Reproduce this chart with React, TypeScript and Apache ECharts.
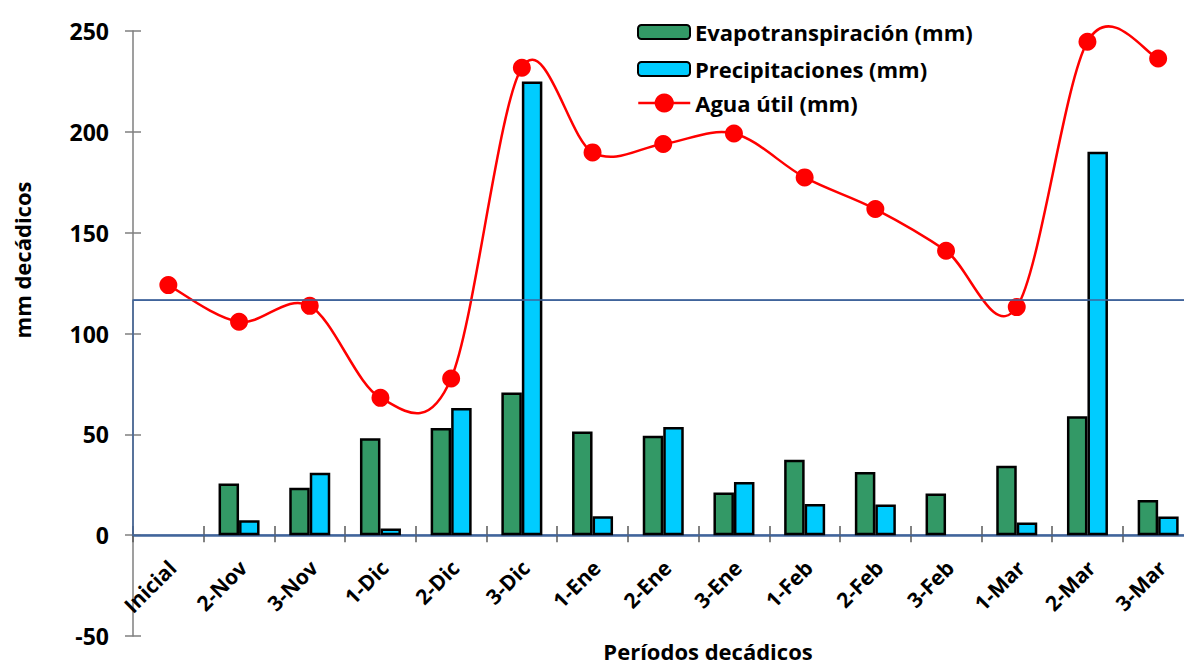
import React, { useEffect, useRef } from "react";
import * as echarts from "echarts";

// Ten-day periods of the season
const categories = [
  "Inicial", "2-Nov", "3-Nov", "1-Dic", "2-Dic", "3-Dic", "1-Ene", "2-Ene",
  "3-Ene", "1-Feb", "2-Feb", "3-Feb", "1-Mar", "2-Mar", "3-Mar",
];

// mm per ten-day period
const evapotranspiracion = ["-", 25.6, 23.5, 48.0, 53.2, 70.8, 51.4, 49.3, 21.2, 37.4, 31.3, 20.7, 34.4, 59.0, 17.5];
const precipitaciones = ["-", 7.4, 30.9, 3.3, 63.1, 224.9, 9.4, 53.6, 26.4, 15.5, 15.2, "-", 6.3, 190.1, 9.3];
const aguaUtil = [124.0, 105.8, 113.7, 68.1, 77.7, 231.8, 189.8, 194.0, 199.2, 177.4, 161.7, 141.0, 113.1, 244.7, 236.4];

// Reference level of available water
const umbral = 116.5;

const FONT = "'Open Sans', 'Liberation Sans', sans-serif";
const BLUE_LINE = "#41659b";
const RED = "#ff0000";

// Plot box (px): y from -50 to 250, x-axis sits at value 0
const PLOT_LEFT = 133;
const PLOT_RIGHT = -9.5;
const PLOT_TOP = 31;
const PLOT_BOTTOM = 29;
const ZERO_BOTTOM = 130; // distance from container bottom to the zero line

export default function App() {
  const ref = useRef<HTMLDivElement>(null);

  useEffect(() => {
    if (!ref.current) return;
    const chart = echarts.init(ref.current, undefined, { renderer: "svg" });

    const axisFont = { fontFamily: FONT, fontWeight: "bold" as const, color: "#000" };

    // Smoothed curve through the available-water points, one cubic segment per gap
    const renderSmooth = (params: any, api: any) => {
      const i = params.dataIndex;
      const n = aguaUtil.length;
      if (i >= n - 1) return null;
      const P = (j: number) => {
        const k = Math.max(0, Math.min(n - 1, j));
        return api.coord([k, aguaUtil[k]]);
      };
      const p0 = P(i - 1);
      const p1 = P(i);
      const p2 = P(i + 1);
      const p3 = P(i + 2);
      return {
        type: "bezierCurve",
        shape: {
          x1: p1[0],
          y1: p1[1],
          x2: p2[0],
          y2: p2[1],
          cpx1: p1[0] + (p2[0] - p0[0]) / 6,
          cpy1: p1[1] + (p2[1] - p0[1]) / 6,
          cpx2: p2[0] - (p3[0] - p1[0]) / 6,
          cpy2: p2[1] - (p3[1] - p1[1]) / 6,
        },
        style: { stroke: RED, lineWidth: 2.5, fill: "none" },
        silent: true,
      };
    };

    const legendBase = {
      orient: "vertical",
      left: 637,
      padding: 0,
      itemWidth: 52,
      textStyle: { ...axisFont, fontSize: 22, lineHeight: 20 },
    };

    chart.setOption({
      animation: false,
      backgroundColor: "#fff",
      grid: [
        {
          left: PLOT_LEFT,
          right: PLOT_RIGHT,
          top: PLOT_TOP,
          bottom: PLOT_BOTTOM,
          containLabel: false,
          outerBoundsMode: "none",
        },
        {
          // carries the category labels just under the zero line
          left: PLOT_LEFT + 4,
          right: PLOT_RIGHT - 4,
          top: PLOT_TOP,
          bottom: ZERO_BOTTOM,
          containLabel: false,
          outerBoundsMode: "none",
        },
        {
          // carries the upward half of the category ticks
          left: PLOT_LEFT,
          right: PLOT_RIGHT,
          top: PLOT_TOP,
          bottom: ZERO_BOTTOM,
          containLabel: false,
          outerBoundsMode: "none",
        },
      ],
      legend: [
        {
          ...legendBase,
          top: 21,
          itemHeight: 14,
          itemGap: 15,
          data: [{ name: "Evapotranspiración (mm)" }, { name: "Precipitaciones (mm)" }],
        },
        {
          ...legendBase,
          top: 92,
          itemHeight: 24,
          data: [{ name: "Agua útil (mm)", lineStyle: { color: RED, width: 2.5, opacity: 1 } }],
        },
      ],
      xAxis: [
        {
          gridIndex: 0,
          type: "category",
          data: categories,
          boundaryGap: true,
          axisLine: { onZero: true, lineStyle: { color: BLUE_LINE, width: 2.5 } },
          axisTick: { show: true, inside: false, length: 7, lineStyle: { color: "#595959", width: 1.5 } },
          axisLabel: { show: false },
          splitLine: { show: false },
        },
        {
          gridIndex: 1,
          type: "category",
          data: categories,
          boundaryGap: true,
          axisLine: { show: false },
          axisTick: { show: false },
          axisLabel: { ...axisFont, fontSize: 21, rotate: 45, margin: 29, interval: 0 },
          splitLine: { show: false },
        },
        {
          gridIndex: 2,
          type: "category",
          data: categories,
          boundaryGap: true,
          axisLine: { show: false },
          axisTick: { show: true, inside: true, length: 9, lineStyle: { color: "#595959", width: 1.5 } },
          axisLabel: { show: false },
          splitLine: { show: false },
        },
      ],
      yAxis: [
        {
          gridIndex: 0,
          type: "value",
          min: -50,
          max: 250,
          interval: 50,
          axisLine: { show: true, lineStyle: { color: "#7f7f7f", width: 1.5 } },
          axisTick: { show: true, inside: false, length: 8, lineStyle: { color: "#7f7f7f", width: 1.5 } },
          axisLabel: { ...axisFont, fontSize: 23, margin: 24 },
          splitLine: { show: false },
        },
        {
          gridIndex: 0,
          type: "value",
          min: -50,
          max: 250,
          interval: 50,
          position: "left",
          axisLine: { show: false },
          axisTick: { show: true, inside: true, length: 8, lineStyle: { color: "#7f7f7f", width: 1.5 } },
          axisLabel: { show: false },
          splitLine: { show: false },
        },
        { gridIndex: 1, type: "value", show: false },
        { gridIndex: 2, type: "value", show: false },
      ],
      series: [
        {
          name: "Evapotranspiración (mm)",
          type: "bar",
          xAxisIndex: 0,
          yAxisIndex: 0,
          data: evapotranspiracion,
          barWidth: 20.5,
          barGap: "0%",
          itemStyle: { color: "#339966", borderColor: "#000", borderWidth: 2.5 },
          markArea: {
            silent: true,
            itemStyle: { color: "rgba(0,0,0,0)", borderColor: BLUE_LINE, borderWidth: 1.5 },
            data: [[{ yAxis: 0 }, { yAxis: umbral }]],
          },
        },
        {
          name: "Precipitaciones (mm)",
          type: "bar",
          xAxisIndex: 0,
          yAxisIndex: 0,
          data: precipitaciones,
          barWidth: 20.5,
          barGap: "0%",
          itemStyle: { color: "#00ccff", borderColor: "#000", borderWidth: 2.5 },
          markLine: {
            silent: true,
            symbol: "none",
            label: { show: false },
            lineStyle: { color: BLUE_LINE, width: 1.5, type: "solid" },
            data: [{ yAxis: umbral }],
          },
        },
        {
          type: "custom",
          xAxisIndex: 0,
          yAxisIndex: 0,
          data: aguaUtil.map((v, i) => [i, v]),
          encode: { x: 0, y: 1 },
          renderItem: renderSmooth,
          z: 3,
          silent: true,
        },
        {
          name: "Agua útil (mm)",
          type: "line",
          xAxisIndex: 0,
          yAxisIndex: 0,
          data: aguaUtil,
          symbol: "circle",
          symbolSize: 18,
          z: 4,
          lineStyle: { color: RED, width: 2.5, opacity: 0 },
          itemStyle: { color: RED },
        },
      ],
      graphic: [
        {
          type: "text",
          x: 22,
          y: 260,
          rotation: Math.PI / 2,
          style: {
            text: "mm decádicos",
            fontFamily: FONT,
            fontWeight: "bold",
            fontSize: 22,
            fill: "#000",
            textAlign: "center",
            textVerticalAlign: "middle",
          },
        },
        {
          type: "text",
          x: 708,
          y: 651,
          style: {
            text: "Períodos decádicos",
            fontFamily: FONT,
            fontWeight: "bold",
            fontSize: 22,
            fill: "#000",
            textAlign: "center",
            textVerticalAlign: "middle",
          },
        },
      ],
    });

    return () => chart.dispose();
  }, []);

  return (
    <div
      ref={ref}
      style={{ position: "fixed", left: 0, top: 0, width: 1184, height: 665 }}
    />
  );
}
